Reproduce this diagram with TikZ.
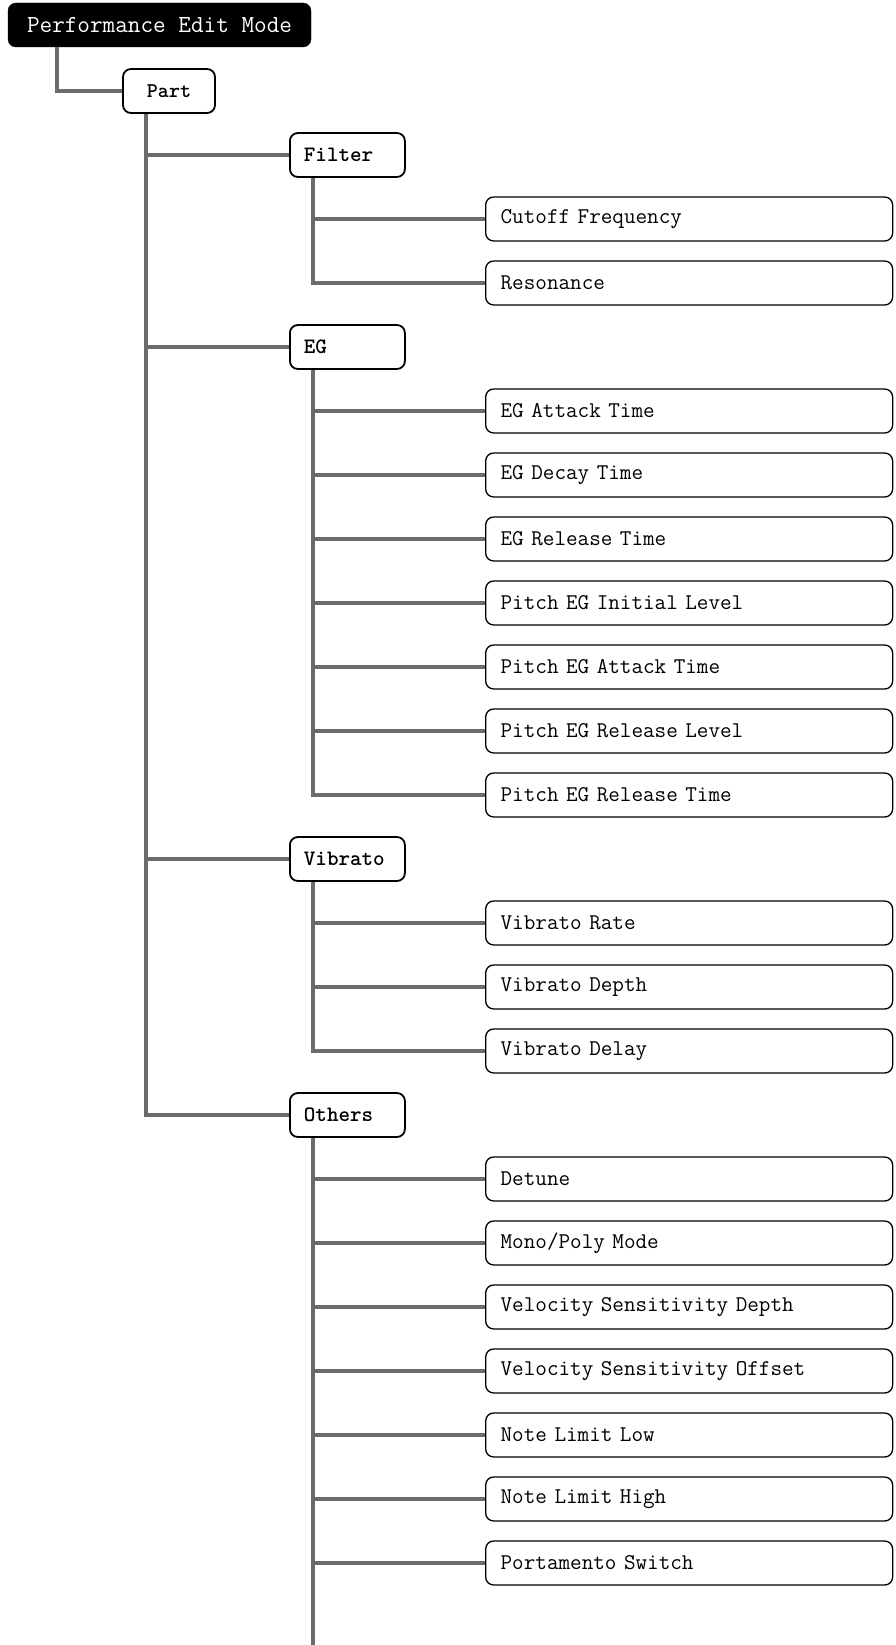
\documentclass[tikz,border=0pt]{standalone}
\usetikzlibrary{positioning}

\definecolor{linkgray}{HTML}{6B6B6B}

\tikzset{
  link/.style={draw=linkgray, line width=4.5pt},
  rootbox/.style={draw=black, fill=black, text=white, rounded corners=8pt,
    minimum width=303pt, minimum height=44pt, inner sep=0pt,
    font=\fontsize{24.5}{28}\selectfont\ttfamily},
  partbox/.style={draw=black, fill=white, line width=1.8pt, rounded corners=8pt,
    minimum width=92pt, minimum height=44pt, inner sep=0pt,
    font=\fontsize{21}{25}\selectfont\ttfamily\bfseries},
  groupbox/.style={draw=black, fill=white, line width=1.8pt, rounded corners=8pt,
    anchor=west, text width=87pt, inner xsep=14pt, align=left,
    minimum height=44pt, inner ysep=0pt,
    font=\fontsize{22}{26}\selectfont\ttfamily\bfseries},
  leafbox/.style={draw=black, fill=white, line width=1.3pt, rounded corners=8pt,
    anchor=west, text width=377pt, inner xsep=15pt, align=left,
    minimum height=44pt, inner ysep=0pt,
    font=\fontsize{22.5}{26}\selectfont\ttfamily}
}

\begin{document}
\begin{tikzpicture}[x=1pt, y=-1pt]
  \useasboundingbox (0,0) rectangle (895,1645);

  % Top levels
  \node[rootbox] (root) at (159.5,25) {Performance Edit Mode};
  \node[partbox] (part) at (169,91) {Part};

  % Groups
  \node[groupbox] (filter) at (289,155) {Filter};
  \node[groupbox] (eg) at (289,347) {EG};
  \node[groupbox] (vibrato) at (289,859) {Vibrato};
  \node[groupbox] (others) at (289,1115) {Others};

  % Filter
  \node[leafbox] (cutoff) at (485,219) {Cutoff Frequency};
  \node[leafbox] (reso) at (485,283) {Resonance};

  % EG
  \node[leafbox] (egatk) at (485,411) {EG Attack Time};
  \node[leafbox] (egdcy) at (485,475) {EG Decay Time};
  \node[leafbox] (egrel) at (485,539) {EG Release Time};
  \node[leafbox] (pinit) at (485,603) {Pitch EG Initial Level};
  \node[leafbox] (patk) at (485,667) {Pitch EG Attack Time};
  \node[leafbox] (prlvl) at (485,731) {Pitch EG Release Level};
  \node[leafbox] (prtime) at (485,795) {Pitch EG Release Time};

  % Vibrato
  \node[leafbox] (vrate) at (485,923) {Vibrato Rate};
  \node[leafbox] (vdepth) at (485,987) {Vibrato Depth};
  \node[leafbox] (vdelay) at (485,1051) {Vibrato Delay};

  % Others
  \node[leafbox] (detune) at (485,1179) {Detune};
  \node[leafbox] (mono) at (485,1243) {Mono/Poly Mode};
  \node[leafbox] (vsdepth) at (485,1307) {Velocity Sensitivity Depth};
  \node[leafbox] (vsoff) at (485,1371) {Velocity Sensitivity Offset};
  \node[leafbox] (nlow) at (485,1435) {Note Limit Low};
  \node[leafbox] (nhigh) at (485,1499) {Note Limit High};
  \node[leafbox] (porta) at (485,1563) {Portamento Switch};
  \coordinate (tail) at (313,1645);

  % Connectors
  \draw[link] ([xshift=49pt]root.south west) |- (part.west);
  \foreach \g in {filter,eg,vibrato,others}
    \draw[link] ([xshift=24pt]part.south west) |- (\g.west);
  \foreach \l in {cutoff,reso}
    \draw[link] ([xshift=24pt]filter.south west) |- (\l.west);
  \foreach \l in {egatk,egdcy,egrel,pinit,patk,prlvl,prtime}
    \draw[link] ([xshift=24pt]eg.south west) |- (\l.west);
  \foreach \l in {vrate,vdepth,vdelay}
    \draw[link] ([xshift=24pt]vibrato.south west) |- (\l.west);
  \foreach \l in {detune,mono,vsdepth,vsoff,nlow,nhigh,porta}
    \draw[link] ([xshift=24pt]others.south west) |- (\l.west);
  \draw[link] ([xshift=24pt]others.south west) -- (tail);
\end{tikzpicture}
\end{document}
